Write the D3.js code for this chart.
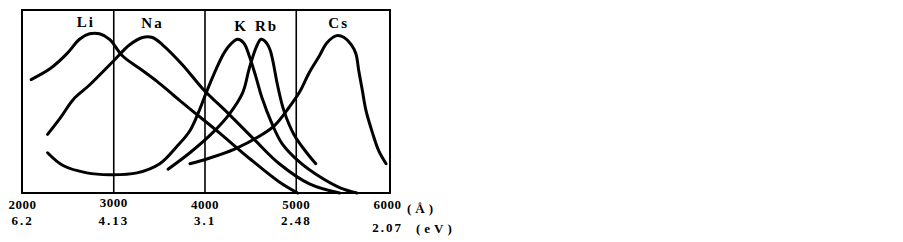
<!DOCTYPE html>
<html>
<head>
<meta charset="utf-8">
<script src="https://cdn.jsdelivr.net/npm/d3@7"></script>
<style>
  html, body { margin: 0; padding: 0; background: #fff; }
  svg { display: block; }
  .lbl { font-family: "Liberation Serif", "DejaVu Serif", serif; font-weight: bold; fill: #000; }
</style>
</head>
<body>
<svg id="chart"></svg>
<script>
// ------- data (wavelength in Å, relative response) -------
var elements = ["Li", "Na", "K", "Rb", "Cs"];
var labelAt = [2700, 3430, 4400, 4680, 5470];

var li = [[2100, 62], [2310, 68], [2490, 76], [2630, 84], [2740, 87], [2850, 87], [2960, 84],
          [3100, 75], [3290, 68], [3480, 61], [3670, 53], [3840, 46], [4160, 33], [4490, 19],
          [4820, 6], [5020, 0]];
var na = [[2280, 32], [2420, 41], [2560, 51], [2740, 59], [3000, 72], [3180, 81], [3320, 85],
          [3430, 85], [3540, 81], [3760, 70], [3980, 57], [4270, 43], [4550, 29], [4820, 16],
          [5150, 5], [5480, 0]];
var k = [[2280, 22], [2450, 15], [2710, 11], [2960, 10], [3260, 11], [3510, 16], [3690, 25],
         [3840, 34], [3950, 46], [4020, 55], [4130, 68], [4220, 77], [4300, 82], [4360, 84],
         [4430, 82], [4490, 75], [4560, 64], [4630, 52], [4730, 39], [4850, 27], [5040, 17],
         [5260, 9], [5480, 3], [5670, 0]];
var rb = [[3600, 13], [3840, 22], [4090, 33], [4270, 43], [4420, 55], [4490, 68], [4570, 80],
          [4620, 84], [4680, 82], [4720, 78], [4750, 72], [4800, 59], [4870, 45], [4980, 32],
          [5120, 22], [5220, 16]];
var cs = [[3840, 16], [4050, 19], [4330, 24], [4600, 31], [4770, 37], [4930, 47], [5040, 55],
          [5150, 66], [5260, 75], [5340, 82], [5450, 86], [5530, 85], [5610, 81], [5660, 76],
          [5690, 67], [5730, 56], [5770, 45], [5840, 33], [5910, 23], [5990, 16]];
var series = [li, na, k, rb, cs];

var waveTicks = [2000, 3000, 4000, 5000, 6000];
var evTicks = ["6.2", "4.13", "3.1", "2.48", "2.07"];

// ------- layout -------
var width = 903;
var height = 242;
var plotTop = 10, plotBottom = 193;

var svg = d3.select("#chart").attr("width", width).attr("height", height);

var x = d3.scaleLinear().domain([2000, 6000]).range([22, 387]);
var y = d3.scaleLinear().domain([0, 100]).range([plotBottom, plotTop]);

// frame
svg.append("rect")
    .attr("x", x(2000))
    .attr("y", plotTop)
    .attr("width", x(6000) + 3 - x(2000))
    .attr("height", plotBottom - plotTop)
    .attr("fill", "none")
    .attr("stroke", "#000")
    .attr("stroke-width", 2);

// vertical guide lines at the inner ticks
svg.append("g")
    .attr("transform", "translate(0," + plotBottom + ")")
    .call(d3.axisBottom(x).tickValues([3000, 4000, 5000]).tickSize(-(plotBottom - plotTop)).tickFormat(""))
    .call(function (g) { g.select(".domain").remove(); })
    .selectAll("line")
    .attr("stroke", "#000")
    .attr("stroke-width", 1.6);

// curves
var line = d3.line()
    .x(function (d) { return x(d[0]); })
    .y(function (d) { return y(d[1]); })
    .curve(d3.curveCatmullRom.alpha(0.5));

svg.append("g")
    .selectAll("path")
    .data(series)
    .enter()
    .append("path")
    .attr("d", line)
    .attr("fill", "none")
    .attr("stroke", "#000")
    .attr("stroke-width", 3)
    .attr("stroke-linecap", "round")
    .attr("stroke-linejoin", "round");

// element labels
var labelY = [27, 28, 31, 31, 28];
svg.append("g")
    .selectAll("text")
    .data(elements)
    .enter()
    .append("text")
    .attr("class", "lbl")
    .attr("x", function (d, i) { return x(labelAt[i]); })
    .attr("y", function (d, i) { return labelY[i]; })
    .attr("text-anchor", "middle")
    .attr("letter-spacing", "2px")
    .style("font-size", "15px")
    .text(function (d) { return d; });

// wavelength row
var axTop = svg.append("g")
    .attr("transform", "translate(0," + plotBottom + ")")
    .call(d3.axisBottom(x).tickValues(waveTicks).tickSize(0).tickPadding(7).tickFormat(d3.format("d")));
axTop.select(".domain").remove();
axTop.selectAll("text")
    .attr("class", "lbl")
    .attr("fill", "#000")
    .attr("dy", function (d) { return d == 3000 ? "0.5em" : "0.71em"; })
    .attr("letter-spacing", "0.5px")
    .style("font-size", "13px");

// photon energy row
var axBot = svg.append("g")
    .attr("transform", "translate(0," + (plotBottom + 22) + ")")
    .call(d3.axisBottom(x).tickValues(waveTicks).tickSize(0).tickPadding(0)
        .tickFormat(function (d, i) { return evTicks[i]; }));
axBot.select(".domain").remove();
axBot.selectAll("text")
    .attr("class", "lbl")
    .attr("fill", "#000")
    .attr("dy", function (d) { return d == 6000 ? "1.3em" : "0.75em"; })
    .attr("letter-spacing", "2px")
    .style("font-size", "13px");

// units
svg.append("text")
    .attr("class", "lbl")
    .attr("x", 407)
    .attr("y", 213)
    .attr("letter-spacing", "4px")
    .style("font-size", "13px")
    .text("(Å)");

svg.append("text")
    .attr("class", "lbl")
    .attr("x", 416)
    .attr("y", 233)
    .attr("letter-spacing", "4px")
    .style("font-size", "13px")
    .text("(eV)");
</script>
</body>
</html>
